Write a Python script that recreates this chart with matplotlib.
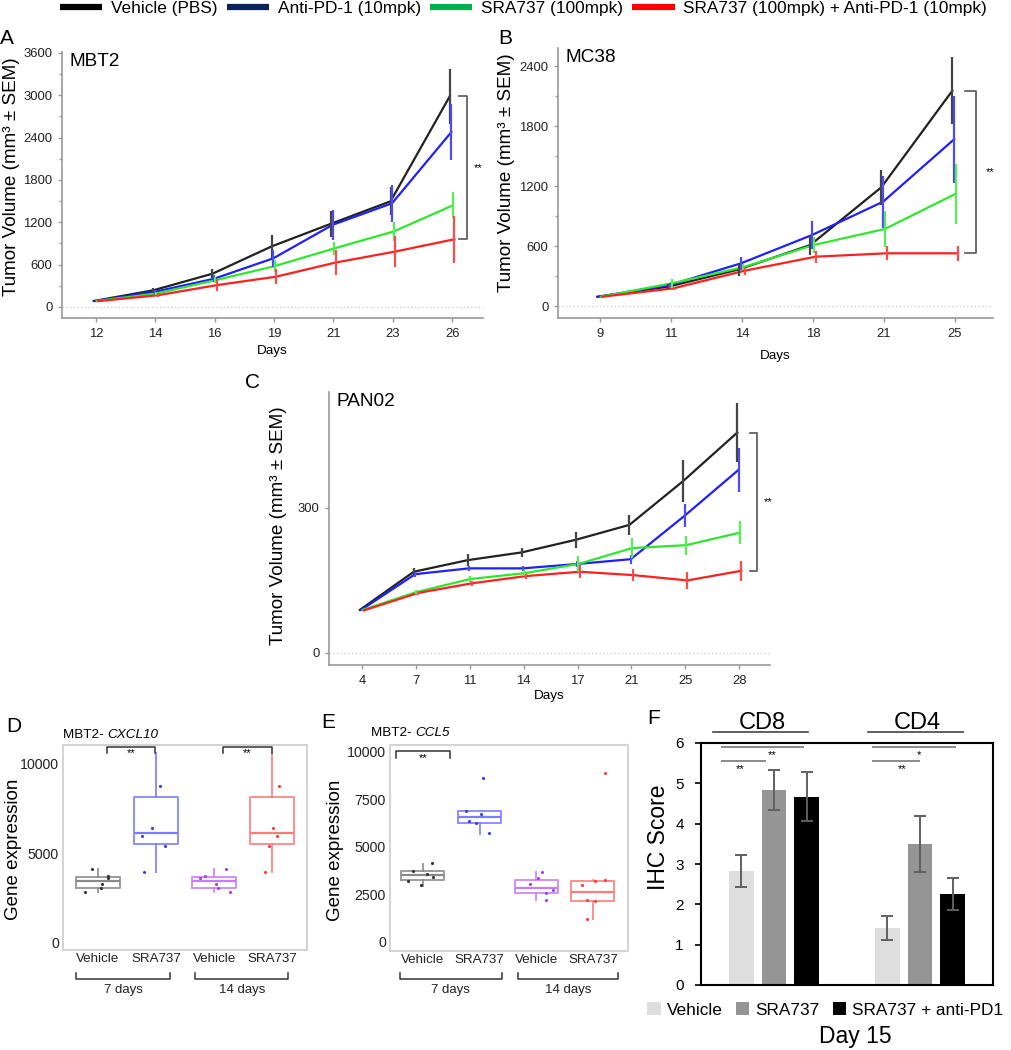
import numpy as np
import matplotlib
matplotlib.use("Agg")
import matplotlib.pyplot as plt
from matplotlib.lines import Line2D

plt.rcParams['font.family'] = ['Liberation Sans', 'DejaVu Sans']

# ---------------- data ----------------
treatments = ['Vehicle (PBS)', 'Anti-PD-1 (10mpk)', 'SRA737 (100mpk)',
              'SRA737 (100mpk) + Anti-PD-1 (10mpk)']
legend_colors = ['#000000', '#0b2260', '#00b050', '#ff0000']
line_colors = ['#222222', '#1f1fff', '#2ee82e', '#ff2020']
err_colors = ['#444444', '#4a4aff', '#55ee55', '#ff4a4a']

# MBT2
mbt2_days = [12, 14, 16, 19, 21, 23, 26]
mbt2_mean = [[85, 236, 472, 860, 1181, 1498, 2990],
             [85, 215, 400, 690, 1165, 1470, 2480],
             [85, 190, 380, 580, 830, 1070, 1440],
             [83, 166, 310, 430, 630, 785, 960]]
mbt2_sem = [[0, 35, 60, 160, 185, 200, 390],
            [0, 30, 50, 118, 215, 262, 400],
            [0, 25, 40, 83, 90, 130, 183],
            [0, 30, 88, 105, 174, 224, 331]]

# MC38
mc38_days = [9, 11, 14, 18, 21, 25]
mc38_mean = [[93, 193, 367, 610, 1187, 2153],
             [93, 210, 427, 710, 1043, 1667],
             [93, 227, 387, 610, 770, 1123],
             [93, 177, 353, 493, 527, 527]]
mc38_sem = [[0, 25, 67, 95, 175, 333],
            [0, 20, 67, 138, 258, 437],
            [0, 42, 30, 83, 180, 300],
            [0, 15, 42, 58, 70, 73]]

# PAN02
pan02_days = [4, 7, 11, 14, 17, 21, 25, 28]
pan02_mean = [[89, 168, 192, 208, 234, 265, 356, 456],
              [89, 163, 175, 175, 184, 194, 284, 379],
              [89, 126, 153, 165, 184, 217, 223, 249],
              [88, 124, 144, 159, 168, 161, 150, 170]]
pan02_sem = [[0, 8, 12, 10, 16, 20, 43, 61],
             [0, 5, 5, 5, 6, 9, 24, 46],
             [0, 5, 6, 6, 17, 20, 20, 24],
             [0, 4, 5, 5, 13, 13, 17, 21]]

# gene expression boxplots
box_labels = ['Vehicle', 'SRA737', 'Vehicle', 'SRA737']
box_colors = ['#8a8a8a', '#7b7bff', '#c77dff', '#ff7b7b']
point_colors = ['#333333', '#3a3aff', '#a43cf0', '#ff3a3a']

cxcl10_q1 = [3060, 5530, 3060, 5530]
cxcl10_med = [3415, 6150, 3415, 6150]
cxcl10_q3 = [3660, 8160, 3660, 8160]
cxcl10_lo = [2810, 3940, 2810, 3940]
cxcl10_hi = [4080, 10600, 4100, 10600]
cxcl10_pts_x = [[0.90, 1.18, 1.17, 1.07, 1.05, 0.78],
                [2.07, 1.93, 1.75, 2.16, 1.80],
                [3.20, 2.84, 2.75, 3.03, 3.06, 3.28],
                [4.12, 4.02, 4.08, 3.95, 3.87]]
cxcl10_pts_y = [[4090, 3710, 3620, 3245, 3020, 2795],
                [8760, 6380, 5950, 5380, 3920],
                [4110, 3700, 3600, 3245, 3020, 2795],
                [8780, 6420, 5970, 5400, 3940]]

ccl5_q1 = [3245, 6260, 2600, 2160]
ccl5_med = [3510, 6560, 2860, 2630]
ccl5_q3 = [3720, 6875, 3280, 3210]
ccl5_lo = [2965, 5700, 2230, 1210]
ccl5_hi = [4120, 6910, 3680, 3280]
ccl5_pts_x = [[1.16, 0.83, 1.07, 1.17, 0.74, 0.96],
              [1.76, 2.02, 1.82, 1.93, 2.17, 2.06],
              [3.10, 3.03, 2.89, 3.30, 3.18, 3.18],
              [4.22, 4.03, 3.80, 3.89, 4.03, 3.90, 4.22]]
ccl5_pts_y = [[4160, 3760, 3580, 3420, 3210, 2980],
              [6910, 6750, 6350, 6260, 5740, 8650],
              [3700, 3350, 3050, 2720, 2600, 2190],
              [3280, 3210, 3020, 2190, 2160, 1210, 8900]]

# IHC
ihc_markers = ['CD8', 'CD4']
ihc_groups = ['Vehicle', 'SRA737', 'SRA737 + anti-PD1']
ihc_mean = [[2.83, 1.42], [4.83, 3.50], [4.67, 2.25]]
ihc_err = [[0.40, 0.30], [0.50, 0.70], [0.60, 0.40]]
bar_colors = ['#dedede', '#959595', '#000000']

# ---------------- figure ----------------
W, H = 1012, 1050
fig = plt.figure(figsize=(W / 100, H / 100), dpi=100)


def px_axes(l, t, r, b):
    return fig.add_axes([l / W, 1 - b / H, (r - l) / W, (b - t) / H])


def px_text(x, y, s, **kw):
    fig.text(x / W, 1 - y / H, s, **kw)


def growth_panel(ax, days, means, sems, xlim, ylim, yticks, minor, name,
                 brk, star_x, ylab_xy, xlab_y):
    x = np.arange(len(days))
    ax.axhline(0, color='#c8c8c8', lw=0.9, ls=(0, (1, 2)), zorder=1)
    for i in range(4):
        xs = x + (i - 1.5) * 0.025
        ax.plot(xs, means[i], color=line_colors[i], lw=1.6, zorder=2 + i)
        ax.errorbar(xs, means[i], yerr=sems[i], fmt='none', ecolor=err_colors[i],
                    elinewidth=1.6, capsize=0, zorder=6 + i)
    ax.set_xticks(x)
    ax.set_xticklabels(days)
    ax.set_xlim(xlim)
    ax.set_ylim(ylim)
    ax.set_yticks(yticks)
    if minor is not None:
        ax.set_yticks(minor, minor=True)
    for s in ['top', 'right']:
        ax.spines[s].set_visible(False)
    for s in ['left', 'bottom']:
        ax.spines[s].set_color('#9a9a9a')
        ax.spines[s].set_linewidth(1.2)
    ax.tick_params(which='both', colors='#9a9a9a', labelcolor='#222222',
                   labelsize=9.4, length=3, width=1, pad=4)
    ax.tick_params(which='minor', length=2)
    ax.set_ylabel('Tumor Volume (mm³ ± SEM)', fontsize=13.6)
    ax.yaxis.set_label_coords(*ylab_xy)
    ax.set_xlabel('Days', fontsize=9.7)
    ax.xaxis.set_label_coords(0.5, xlab_y)
    ax.text(0.018, 0.995, name, transform=ax.transAxes, fontsize=13.7, va='top')
    top, bot = means[0][-1], means[3][-1]
    ax.plot([brk[0], brk[1], brk[1], brk[0]], [top, top, bot, bot],
            color='#555555', lw=1.2, clip_on=False)
    ax.text(star_x, (top + bot) / 2, '**', fontsize=8, ha='center', va='center')


axA = px_axes(62, 52, 483, 318)
growth_panel(axA, mbt2_days, mbt2_mean, mbt2_sem, (-0.573, 6.52), (-156, 3614),
             np.arange(0, 3601, 600), np.arange(300, 3600, 600), 'MBT2',
             (6.12, 6.25), 6.44, (-0.10, 0.53), -0.10)

axB = px_axes(558, 48, 993, 318)
growth_panel(axB, mc38_days, mc38_mean, mc38_sem, (-0.59, 5.535), (-120, 2580),
             np.arange(0, 2401, 600), np.arange(300, 2400, 600), 'MC38',
             (5.14, 5.30), 5.5, (-0.099, 0.537), -0.119)

axC = px_axes(329, 392, 770, 665)
growth_panel(axC, pan02_days, pan02_mean, pan02_sem, (-0.61, 7.57), (-25, 540),
             [0, 300], None, 'PAN02',
             (7.20, 7.33), 7.53, (-0.095, 0.51), -0.092)


def box_panel(ax, q1, med, q3, lo, hi, pxs, pys, xlim, ylim, yticks, gene,
              title_x, title_y, sig, sig_top, sig_bot, grp, grp_y, ylab_x):
    for i in range(4):
        st = [dict(med=med[i], q1=q1[i], q3=q3[i], whislo=lo[i], whishi=hi[i], fliers=[])]
        c = box_colors[i]
        ax.bxp(st, positions=[i + 1], widths=0.76, showfliers=False, showcaps=False,
               boxprops=dict(color=c, lw=1.4, alpha=0.85),
               whiskerprops=dict(color=c, lw=1.4, alpha=0.85),
               medianprops=dict(color=c, lw=1.6), manage_ticks=False)
        ax.scatter(pxs[i], pys[i], s=5, color=point_colors[i], lw=0, zorder=3)
    ax.set_xlim(xlim)
    ax.set_ylim(ylim)
    ax.set_yticks(yticks)
    ax.set_xticks([1, 2, 3, 4])
    ax.set_xticklabels(box_labels)
    for s in ax.spines.values():
        s.set_color('#d4d4d4')
        s.set_linewidth(1.5)
    ax.tick_params(axis='y', length=0, pad=3, labelsize=10.2, labelcolor='#222222')
    ax.tick_params(axis='x', length=0, pad=2, labelsize=9.6, labelcolor='#222222')
    ax.set_ylabel('Gene expression', fontsize=13.5)
    ax.yaxis.set_label_coords(ylab_x, 0.49)
    t1 = ax.text(title_x, title_y, 'MBT2- ', transform=ax.transAxes, fontsize=9.7,
                 ha='left', va='center')
    ax.annotate(gene, xy=(1, 0.5), xycoords=t1, fontsize=9.7, style='italic',
                ha='left', va='center')
    for x0, x1 in sig:
        ax.plot([x0, x0, x1, x1], [sig_bot, sig_top, sig_top, sig_bot],
                color='#333333', lw=1.1, clip_on=False)
        ax.text((x0 + x1) / 2, sig_bot, '**', fontsize=8, ha='center', va='center')
    tr = ax.get_xaxis_transform()
    for (x0, x1), lab in zip(grp, ['7 days', '14 days']):
        ax.plot([x0, x0, x1, x1], [grp_y[0], grp_y[1], grp_y[1], grp_y[0]],
                transform=tr, color='#333333', lw=1.1, clip_on=False)
        ax.text((x0 + x1) / 2, grp_y[2], lab, transform=tr, fontsize=9.5,
                ha='center', va='center', color='#222222')


axD = px_axes(63, 745, 307, 950)
box_panel(axD, cxcl10_q1, cxcl10_med, cxcl10_q3, cxcl10_lo, cxcl10_hi,
          cxcl10_pts_x, cxcl10_pts_y, (0.397, 4.6), (-449, 11067), [0, 5000, 10000],
          'CXCL10', 0.0, 1.049, [(1.155, 1.98), (3.155, 4.0)], 10955, 10618,
          [(0.62, 2.24), (2.67, 4.28)], (-0.112, -0.141, -0.195), -0.168)

axE = px_axes(390, 745, 628, 951)
box_panel(axE, ccl5_q1, ccl5_med, ccl5_q3, ccl5_lo, ccl5_hi,
          ccl5_pts_x, ccl5_pts_y, (0.418, 4.62), (-474, 10368),
          [0, 2500, 5000, 7500, 10000],
          'CCL5', -0.08, 1.058, [(0.52, 1.48)], 10053, 9684,
          [(0.59, 2.39), (2.68, 4.44)], (-0.107, -0.136, -0.19), -0.193)

# F: IHC bars
axF = px_axes(701, 743, 993, 985)
gx = np.arange(len(ihc_markers))
for j in range(3):
    axF.bar(gx + (j - 1) * 0.223, ihc_mean[j], width=0.171, color=bar_colors[j],
            yerr=ihc_err[j], label=ihc_groups[j],
            error_kw=dict(ecolor='#606060', elinewidth=1.4, capsize=4.5, capthick=1.4))
axF.set_xlim(-0.5, 1.5)
axF.set_ylim(0, 6)
axF.set_yticks(range(7))
axF.set_xticks([])
for s in axF.spines.values():
    s.set_color('black')
    s.set_linewidth(1.5)
axF.tick_params(axis='y', length=4.5, width=1.2, pad=8, labelsize=11)
axF.set_ylabel('IHC Score', fontsize=16.5)
axF.yaxis.set_label_coords(-0.106, 0.61)

trF = axF.get_xaxis_transform()
for name, cx, (l, r) in zip(ihc_markers, [-0.08, 0.98], [(-0.418, 0.233), (0.644, 1.295)]):
    axF.text(cx, 1.083, name, transform=trF, ha='center', va='center', fontsize=17)
    axF.plot([l, r], [1.045, 1.045], transform=trF, color='#444444', lw=1.2, clip_on=False)

# significance lines (x0, x1, y, label, label_x, label_y)
f_sig = [(-0.356, -0.062, 5.55, '**', -0.233, 5.36),
         (-0.356, 0.199, 5.90, '**', -0.014, 5.70),
         (0.678, 0.993, 5.55, '**', 0.877, 5.36),
         (0.678, 1.240, 5.90, '*', 0.993, 5.70)]
for x0, x1, y, lab, lx, ly in f_sig:
    axF.plot([x0, x1], [y, y], color='#8a8a8a', lw=1.4)
    axF.text(lx, ly, lab, fontsize=8, ha='center', va='center')

axF.legend(loc='center left', bbox_to_anchor=(647 / W, 1 - 1010 / H),
           bbox_transform=fig.transFigure, ncol=3, frameon=False, fontsize=12.4,
           handlelength=0.8, handleheight=0.8, handletextpad=0.35,
           columnspacing=0.75, borderpad=0, borderaxespad=0)
px_text(855, 1037, 'Day 15', ha='center', va='center', fontsize=16.5)

# top legend
handles = [Line2D([], [], color=c, lw=4.5, solid_capstyle='butt') for c in legend_colors]
fig.legend(handles, treatments, loc='center left', bbox_to_anchor=(60 / W, 1 - 8 / H),
           ncol=4, frameon=False, fontsize=12.4, handlelength=2.45, handletextpad=0.5,
           columnspacing=0.55, borderpad=0, borderaxespad=0)

# panel letters
for lab, x, y in [('A', 7, 38), ('B', 505, 38), ('C', 253, 382),
                  ('D', 14, 726), ('E', 328, 723), ('F', 654, 719)]:
    px_text(x, y, lab, ha='center', va='center', fontsize=15)

fig.savefig('out.png', dpi=100)
